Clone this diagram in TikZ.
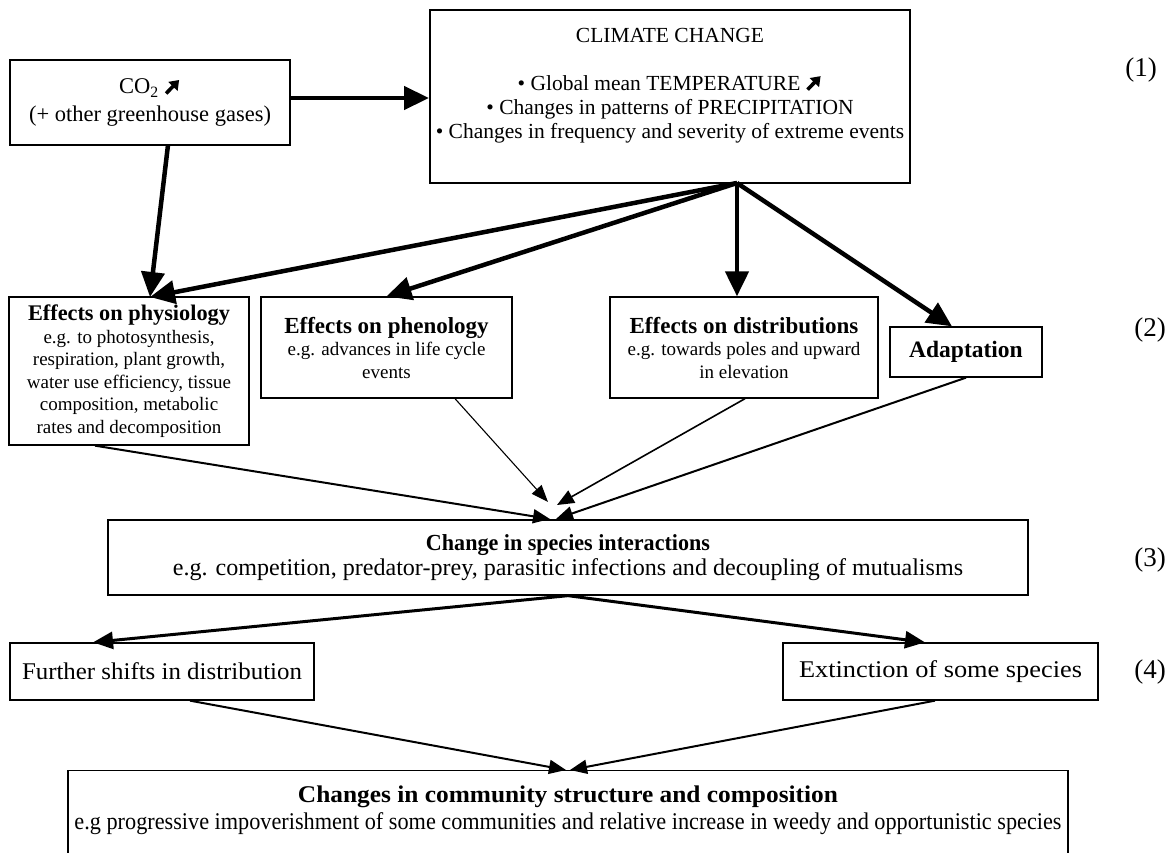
\documentclass[tikz,border=0pt]{standalone}
\usepackage{fontspec}
\setmainfont{Liberation Serif}
\usetikzlibrary{arrows.meta}
\newcommand{\risearrow}{\tikz[baseline=0pt,x=1pt,y=1pt]\draw[line width=3.6pt,-{Triangle[length=9pt,width=12.5pt]}] (0,0.5) -- (13,14);}
\newcommand{\cond}[2]{\resizebox{#1}{\height}{#2}}
\begin{document}
\begin{tikzpicture}[x=1pt,y=-1pt,
  box/.style={draw, line width=1.3pt, align=center, inner sep=0pt},
  heavyarrow/.style={line width=4.5pt, -{Triangle[length=25pt,width=23pt]}},
  midarrow/.style={line width=3pt, -{Triangle[length=20pt,width=17pt]}},
  thinarrow/.style={line width=2pt, -{Triangle[length=17pt,width=14pt]}},
  hairarrow/.style={line width=1.1pt, -{Triangle[length=17pt,width=13pt]}},
  lvl/.style={font=\fontsize{27}{29}\selectfont},
  body/.style={font=\fontsize{19}{22.5}\selectfont}]
\useasboundingbox (0,0) rectangle (1176,852);

% level 1
\node[box, minimum width=280pt, minimum height=85pt, font=\fontsize{22.5}{28}\selectfont] (co2) at (150,102.5)
  {CO\textsubscript{2} \risearrow\\(+ other greenhouse gases)};
\node[box, line width=2pt, minimum width=480pt, minimum height=173pt, font=\fontsize{21.5}{24}\selectfont] (cc) at (670,96.5)
  {CLIMATE CHANGE\\[24pt]
   • Global mean TEMPERATURE \risearrow\\
   • Changes in patterns of PRECIPITATION\\
   • Changes in frequency and severity of extreme events\\[3pt]\mbox{}};
\node[lvl] (l1) at (1141,70) {(1)};

% level 2
\node[box, body, minimum width=240pt, minimum height=148pt] (phys) at (129,371)
  {{\fontsize{22.3}{24}\selectfont\bfseries Effects on physiology}\\
   e.g. to photosynthesis,\\ respiration, plant growth,\\ water use efficiency, tissue\\ composition, metabolic\\ rates and decomposition};
\node[box, body, minimum width=251pt, minimum height=101pt] (phen) at (386.5,347.5)
  {{\fontsize{23}{24}\selectfont\bfseries Effects on phenology}\\
   e.g. advances in life cycle\\ events};
\node[box, body, minimum width=268pt, minimum height=101pt] (dist) at (744,347.5)
  {{\fontsize{23}{24}\selectfont\bfseries Effects on distributions}\\
   e.g. towards poles and upward\\ in elevation};
\node[box, minimum width=152pt, minimum height=50pt, font=\fontsize{23.5}{24}\selectfont\bfseries] (adap) at (966,352) {Adaptation};
\node[lvl] (l2) at (1150,330) {(2)};

% level 3
\node[box, minimum width=920pt, minimum height=75pt, font=\fontsize{23}{25}\selectfont] (spec) at (568,557.5)
  {\cond{284pt}{\fontsize{23}{25}\selectfont\bfseries Change in species interactions}\\
   \cond{790pt}{\fontsize{24}{25}\selectfont e.g. competition, predator-prey, parasitic infections and decoupling of mutualisms}};
\node[lvl] (l3) at (1150,560) {(3)};

% level 4
\node[box, minimum width=304pt, minimum height=57pt] (fur) at (162,671.5)
  {\cond{280pt}{\fontsize{24}{25}\selectfont Further shifts in distribution}};
\node[box, minimum width=315pt, minimum height=57pt] (ext) at (940.5,671.5)
  {\cond{283pt}{\fontsize{24}{25}\selectfont Extinction of some species}};
\node[lvl] (l4) at (1150,672) {(4)};

% level 5
\node[box, minimum width=1000pt, minimum height=110pt, anchor=north] (comm) at (568,770) {};
\node[align=center, anchor=north, inner sep=0pt, font=\fontsize{24}{27}\selectfont] (commtext) at ([yshift=-16pt]comm.north)
  {\cond{540pt}{\fontsize{24}{27}\selectfont\bfseries Changes in community structure and composition}\\
   \cond{987pt}{\fontsize{24}{27}\selectfont e.g progressive impoverishment of some communities and relative increase in weedy and opportunistic species}};

% connection points
\coordinate (ccout) at (737,183);
\coordinate (physin) at (150,297);
\coordinate (co2out) at (168,145);
\coordinate (specin) at (550,519);

% connectors
\draw[heavyarrow] (co2.east |- 0,98) -- (cc.west |- 0,98);
\draw[heavyarrow] (co2out) -- (physin);
\draw[heavyarrow] (ccout) -- (physin);
\draw[heavyarrow] (ccout) -- (phen.north);
\draw[heavyarrow] (ccout) -- (dist.north -| ccout);
\draw[heavyarrow] (ccout) -- (adap.north -| 952,0);

\draw[thinarrow] (phys.south -| 95,0) -- (specin);
\draw[hairarrow] (phen.south -| 455,0) -- (548,502);
\draw[thinarrow, line width=1.6pt] (dist.south -| 745,0) -- (557,505);
\draw[thinarrow] (adap.south) -- (556,519);

\draw[midarrow] (spec.south) -- (fur.north -| 93,0);
\draw[midarrow] (spec.south) -- (ext.north -| 925,0);

\draw[thinarrow] (fur.south -| 190,0) -- (comm.north -| 566,0);
\draw[thinarrow] (ext.south -| 935,0) -- (comm.north -| 570,0);
\end{tikzpicture}
\end{document}
